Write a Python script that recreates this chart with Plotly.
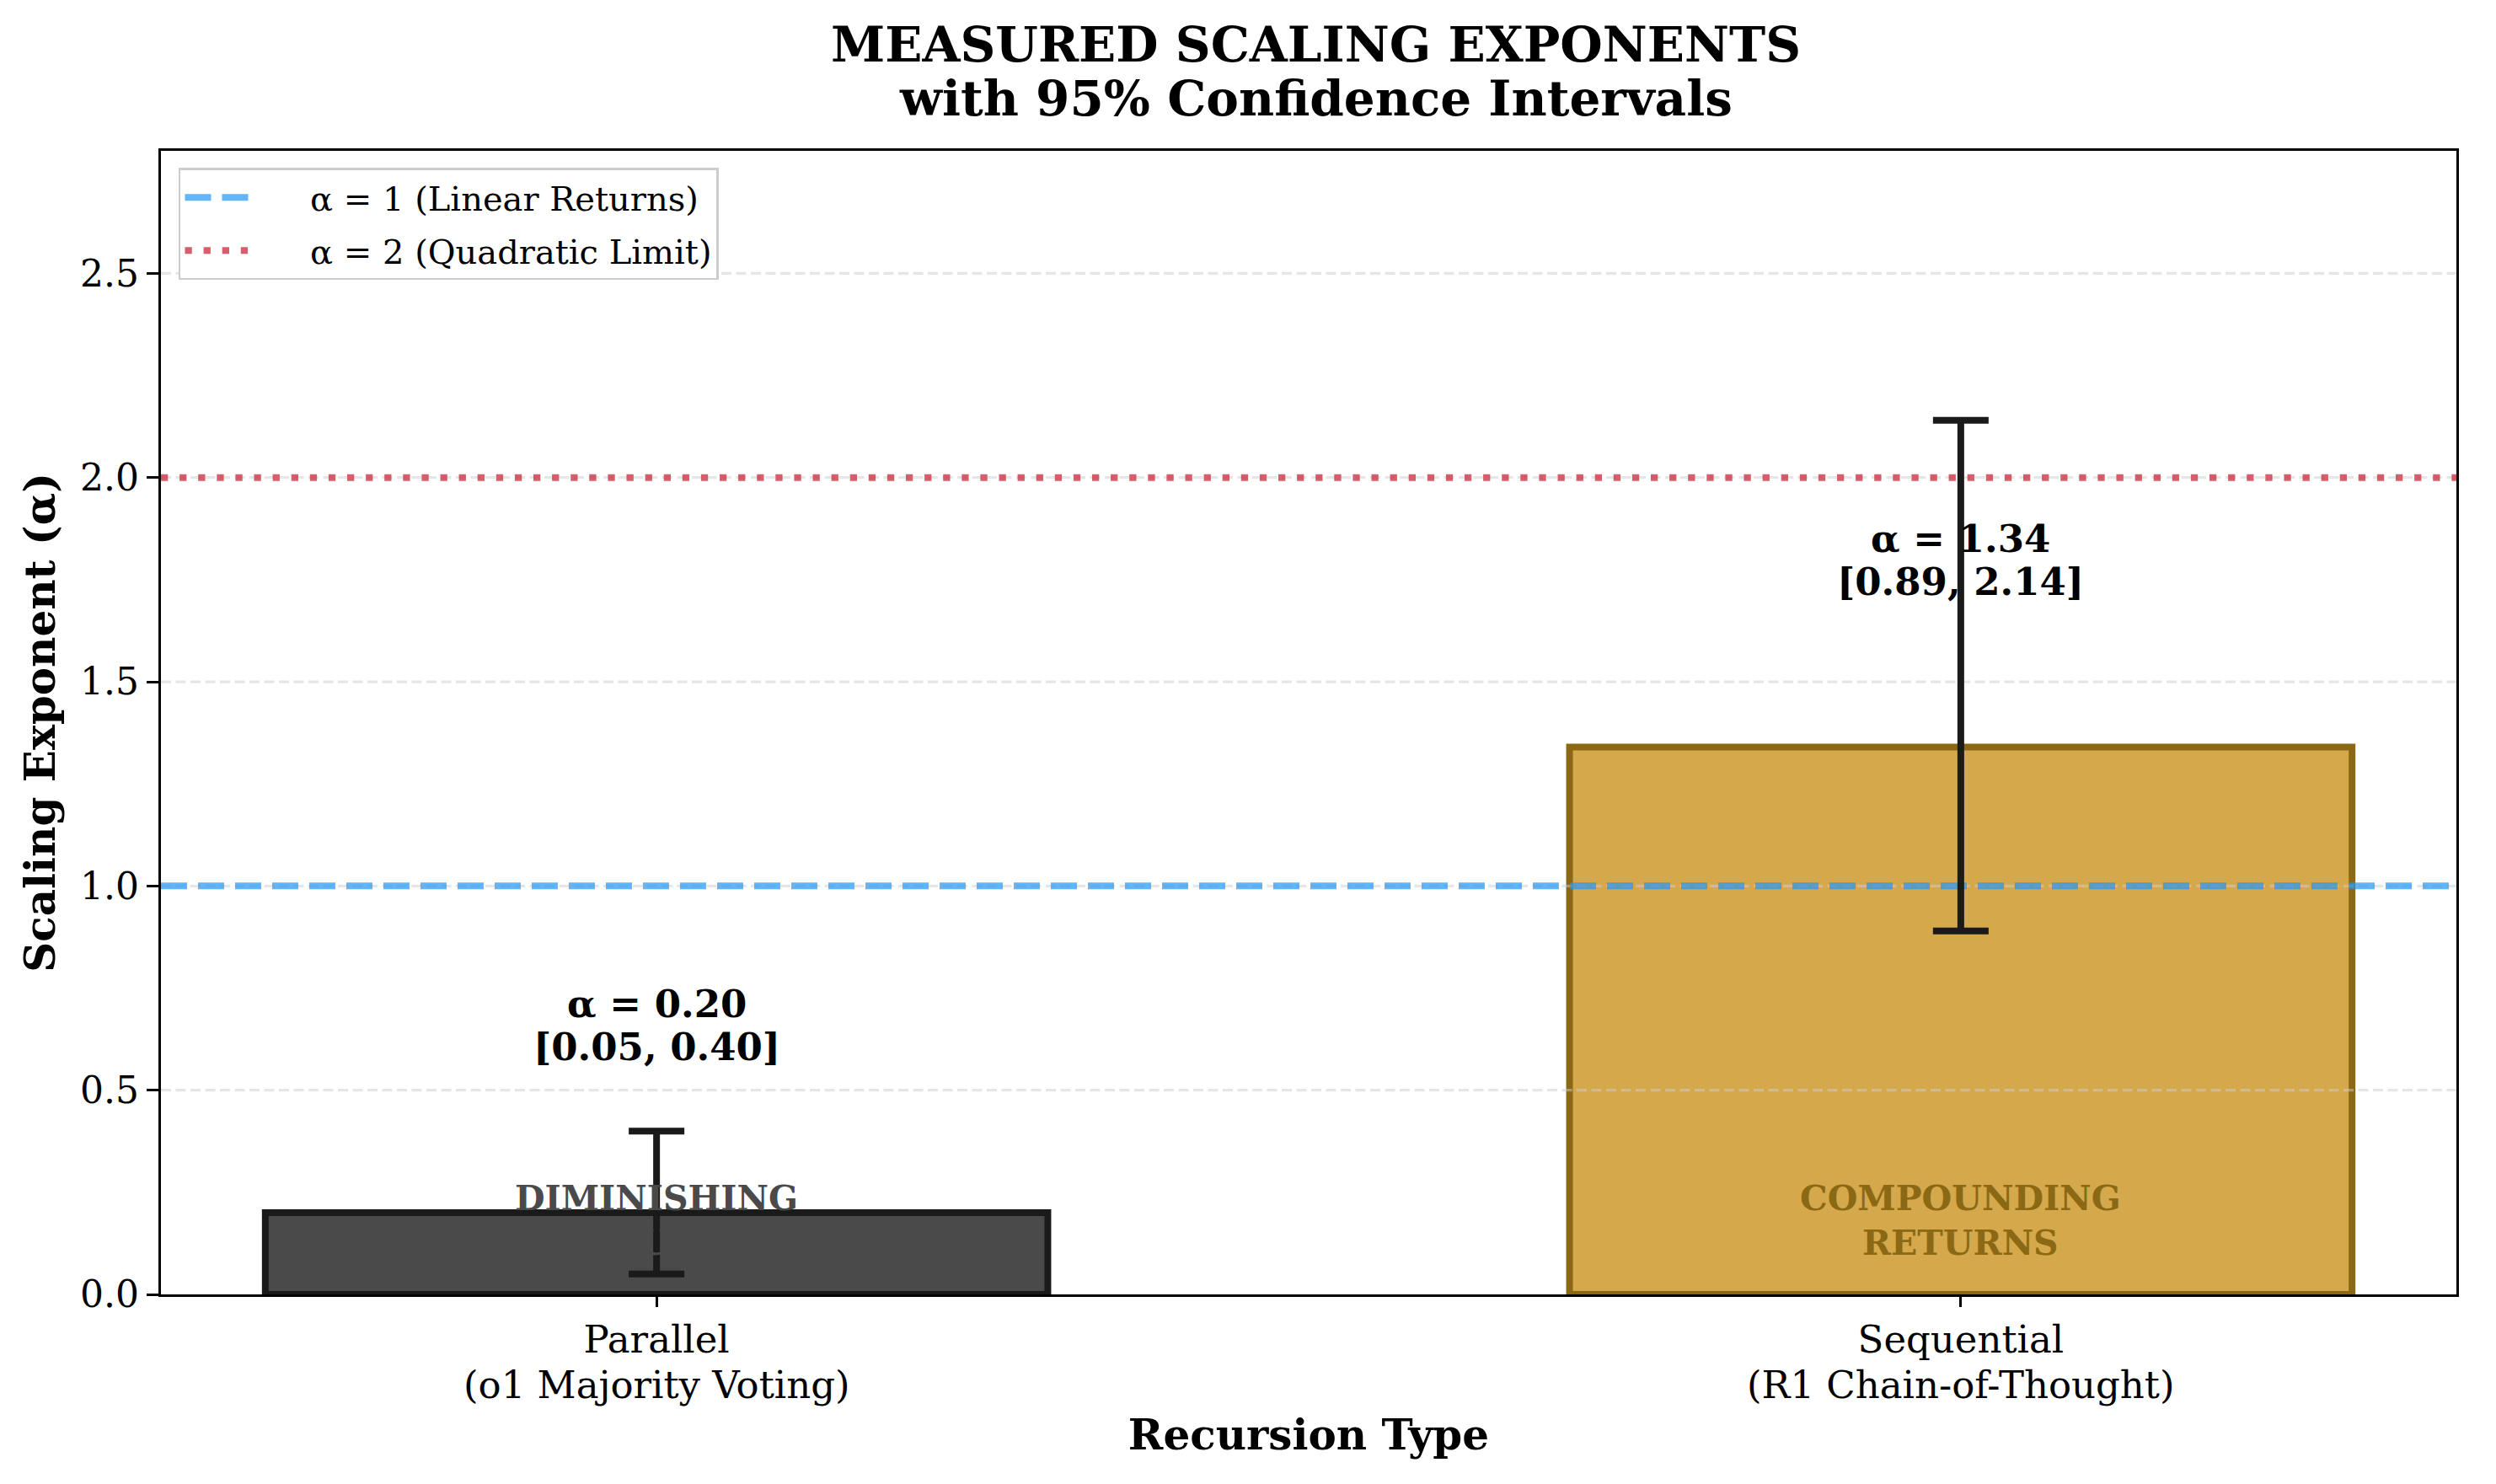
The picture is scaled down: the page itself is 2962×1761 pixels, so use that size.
import plotly.graph_objects as go

# ---- data ----
categories = ["Parallel<br>(o1 Majority Voting)", "Sequential<br>(R1 Chain-of-Thought)"]
alpha_values = [0.20, 1.34]
ci_lower = [0.05, 0.89]
ci_upper = [0.40, 2.14]
regime_labels = ["DIMINISHING<br>RETURNS", "COMPOUNDING<br>RETURNS"]
ref_levels = [1.0, 2.0]
ref_names = ["α = 1 (Linear Returns)", "α = 2 (Quadratic Limit)"]
y_ticks = [0.0, 0.5, 1.0, 1.5, 2.0, 2.5]
title_lines = ["MEASURED SCALING EXPONENTS", "with 95% Confidence Intervals"]

# ---- style ----
FONT = "DejaVu Serif"
bar_fill = ["#4a4a4a", "#d4a84b"]
bar_edge = ["#1a1a1a", "#8b6914"]
regime_colors = ["#4a4a4a", "#8b6914"]
ref_colors = ["rgba(33,150,243,0.7)", "rgba(200,40,60,0.75)"]
ref_dash = ["31px,13px", "8.3px,13.8px"]
XR = [-0.38, 1.38]
YR = [0, 2.8]
NB = "\u00a0" * 5

xpos = list(range(len(categories)))
cat_first = [c.split("<br>")[0] for c in categories]
cat_second = [c.split("<br>")[1] for c in categories]

fig = go.Figure()

fig.add_trace(go.Bar(
    x=xpos, y=alpha_values, width=0.6,
    marker=dict(color=bar_fill, line=dict(color=bar_edge, width=8)),
    showlegend=False, hoverinfo="skip",
))

# grid lines above bars (as in reference)
for yv in y_ticks[1:]:
    fig.add_trace(go.Scatter(
        x=XR, y=[yv, yv], mode="lines",
        line=dict(color="rgba(205,205,205,0.5)", width=3.3, dash="12px,5.5px"),
        showlegend=False, hoverinfo="skip",
    ))

for k, (lvl, name, col, dsh) in enumerate(zip(ref_levels, ref_names, ref_colors, ref_dash)):
    fig.add_trace(go.Scatter(
        x=XR, y=[lvl, lvl], mode="lines", name=NB + name,
        legendgroup=f"g{k}",
        line=dict(color=col, width=8, dash=dsh),
        hoverinfo="skip",
    ))

fig.add_trace(go.Scatter(
    x=xpos, y=alpha_values, mode="markers",
    marker=dict(size=1, color="rgba(0,0,0,0)"),
    error_y=dict(
        type="data", symmetric=False,
        array=[u - v for u, v in zip(ci_upper, alpha_values)],
        arrayminus=[v - l for l, v in zip(ci_lower, alpha_values)],
        color="#1a1a1a", thickness=8, width=33,
    ),
    showlegend=False, hoverinfo="skip",
))

annotations = []
for i, (v, lo, hi) in enumerate(zip(alpha_values, ci_lower, ci_upper)):
    for txt, dy in ((f"α = {v:.2f}", 0.51), (f"[{lo:.2f}, {hi:.2f}]", 0.405)):
        annotations.append(dict(
            x=i, y=v + dy, xref="x", yref="y", yanchor="middle",
            text=f"<b>{txt}</b>",
            showarrow=False, font=dict(family=FONT, size=45, color="black"),
        ))
    annotations.append(dict(
        x=i, y=0.18, xref="x", yref="y", yanchor="middle",
        text=f"<b>{regime_labels[i]}</b>",
        showarrow=False, font=dict(family=FONT, size=41, color=regime_colors[i]),
    ))
    # second line of category tick label
    annotations.append(dict(
        x=i, y=-0.079, xref="x", yref="paper", yanchor="middle",
        text=cat_second[i], showarrow=False, borderpad=0,
        font=dict(family=FONT, size=45, color="black"),
    ))

# two-line title as separate annotations (tighter line spacing)
for txt, yp in zip(title_lines, [1.0929, 1.0457]):
    annotations.append(dict(
        x=0.503, y=yp, xref="paper", yref="paper", xanchor="center", yanchor="middle",
        text=f"<b>{txt}</b>", showarrow=False,
        font=dict(family=FONT, size=58, color="black"),
    ))

fig.update_layout(
    width=2962, height=1761,
    margin=dict(l=191, r=47, t=179, b=225),
    paper_bgcolor="white", plot_bgcolor="white",
    font=dict(family=FONT, size=43, color="black"),
    xaxis=dict(
        range=XR, tickvals=xpos, ticktext=cat_first,
        showline=True, mirror=True, linecolor="black", linewidth=3.3,
        ticks="outside", ticklen=12, tickwidth=3, tickcolor="black",
        showgrid=False, zeroline=False,
        tickfont=dict(size=45),
        title=dict(text="<b>Recursion Type</b>", font=dict(size=50), standoff=70),
    ),
    yaxis=dict(
        range=YR, tickvals=y_ticks, tickformat=".1f",
        showline=True, mirror=True, linecolor="black", linewidth=3.3,
        ticks="outside", ticklen=14, tickwidth=3, tickcolor="black",
        showgrid=False, zeroline=False,
        tickfont=dict(size=44),
        title=dict(text="<b>Scaling Exponent (α)</b>", font=dict(size=50), standoff=14),
    ),
    legend=dict(
        x=0.0077, y=0.985, xanchor="left", yanchor="top",
        bgcolor="white", bordercolor="#cccccc", borderwidth=2.5,
        font=dict(family=FONT, size=40), itemwidth=80,
        tracegroupgap=8,
    ),
    annotations=annotations,
)

fig.write_html("out.html")
